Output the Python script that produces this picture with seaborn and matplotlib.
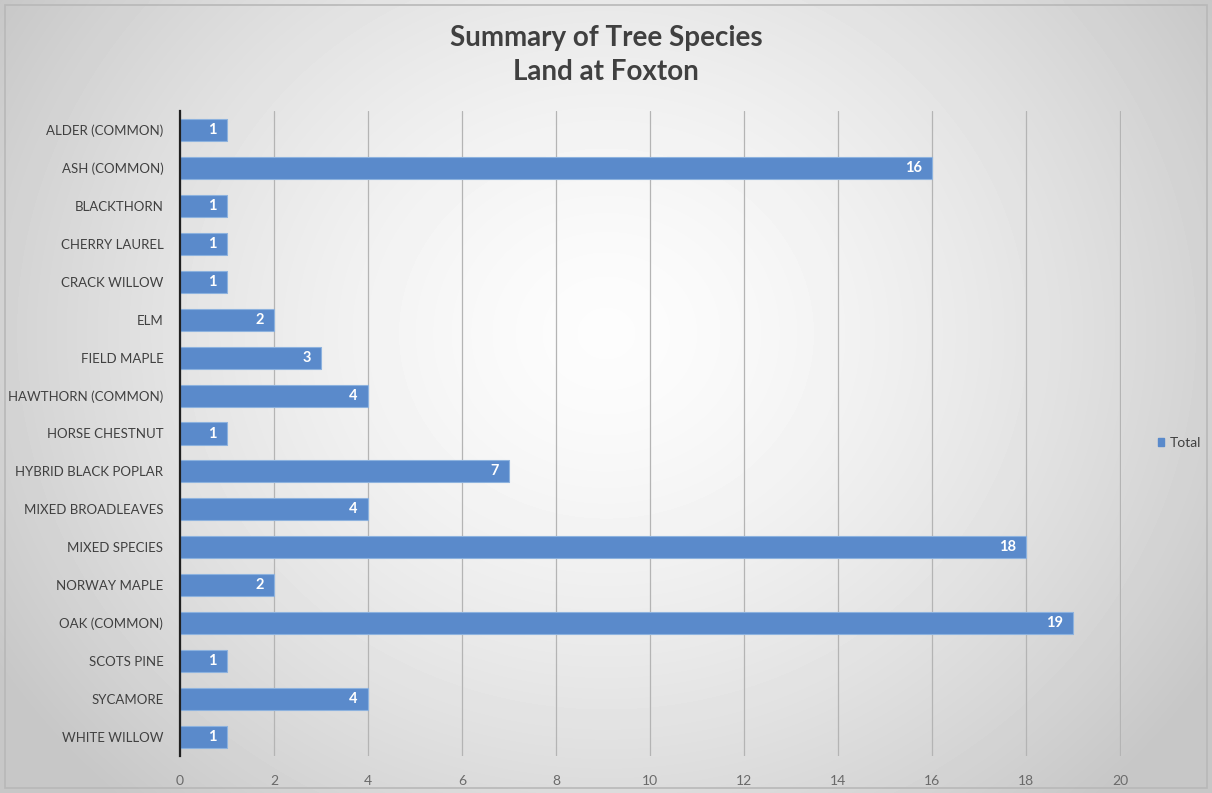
import numpy as np
import pandas as pd
import matplotlib
matplotlib.use("Agg")
import matplotlib.pyplot as plt
import seaborn as sns

species = [
    "ALDER (COMMON)", "ASH (COMMON)", "BLACKTHORN", "CHERRY LAUREL",
    "CRACK WILLOW", "ELM", "FIELD MAPLE", "HAWTHORN (COMMON)",
    "HORSE CHESTNUT", "HYBRID BLACK POPLAR", "MIXED BROADLEAVES",
    "MIXED SPECIES", "NORWAY MAPLE", "OAK (COMMON)", "SCOTS PINE",
    "SYCAMORE", "WHITE WILLOW",
]
totals = [1, 16, 1, 1, 1, 2, 3, 4, 1, 7, 4, 18, 2, 19, 1, 4, 1]
x_ticks = [0, 2, 4, 6, 8, 10, 12, 14, 16, 18, 20]

df = pd.DataFrame({"Species": species, "Total": totals})

sns.set_theme(style="white")
plt.rcParams["font.family"] = ["Lato", "DejaVu Sans"]

W, H = 1212, 793
fig = plt.figure(figsize=(W / 100, H / 100), dpi=100)

# soft radial background
bg = fig.add_axes([0, 0, 1, 1], zorder=0)
yy, xx = np.mgrid[0:H, 0:W]
r = np.sqrt(((xx - W * 0.5) / (W * 0.55)) ** 2 + ((yy - H * 0.42) / (H * 0.75)) ** 2)
shade = np.clip(0.99 - 0.19 * r ** 1.5, 0.78, 0.99)
bg.imshow(shade, cmap="gray", vmin=0, vmax=1, aspect="auto", extent=[0, 1, 0, 1])
bg.add_patch(plt.Rectangle((0.004, 0.006), 0.992, 0.988, fill=False,
                           edgecolor="#b8b8b8", lw=1.2, transform=bg.transAxes))
bg.set_axis_off()

ax = fig.add_axes([180 / W, 1 - 756 / H, 941 / W, 645 / H], zorder=1)
ax.set_facecolor("none")

sns.barplot(data=df, x="Total", y="Species", orient="h", ax=ax,
            color="#5a8acb", width=0.58, edgecolor="#8db2de", linewidth=0.8,
            saturation=1, label="Total", legend=False)

for patch, val in zip(ax.patches, totals):
    y = patch.get_y() + patch.get_height() / 2
    ax.text(patch.get_width() - 0.22, y, str(val), ha="right", va="center",
            color="white", fontsize=10.5, fontweight="bold")

ax.set_xlim(0, 20.02)
ax.set_xticks(x_ticks)
ax.set_xticklabels([str(t) for t in x_ticks], color="#6a6a6a", fontsize=10)
ax.tick_params(axis="x", length=0, pad=14)
ax.tick_params(axis="y", length=0, pad=12, labelsize=9.5, labelcolor="#404040")
ax.xaxis.grid(True, color="#b4b4b4", lw=0.9)
ax.set_axisbelow(True)
ax.set_xlabel("")
ax.set_ylabel("")
for side in ["top", "right", "bottom"]:
    ax.spines[side].set_visible(False)
ax.spines["left"].set_color("#202020")
ax.spines["left"].set_linewidth(1.6)

fig.text(0.5, 1 - 38 / H, "Summary of Tree Species", ha="center", va="center",
         fontsize=20, fontweight="bold", color="#404040")
fig.text(0.5, 1 - 72 / H, "Land at Foxton", ha="center", va="center",
         fontsize=20, fontweight="bold", color="#404040")

handle = plt.Rectangle((0, 0), 1, 1, color="#5a8acb")
fig.legend([handle], ["Total"], loc="center left", bbox_to_anchor=(1145 / W, 1 - 443 / H),
           frameon=False, fontsize=10, handlelength=0.5, handleheight=0.5,
           handletextpad=0.4, labelcolor="#404040")

fig.savefig("out.png", dpi=100)
